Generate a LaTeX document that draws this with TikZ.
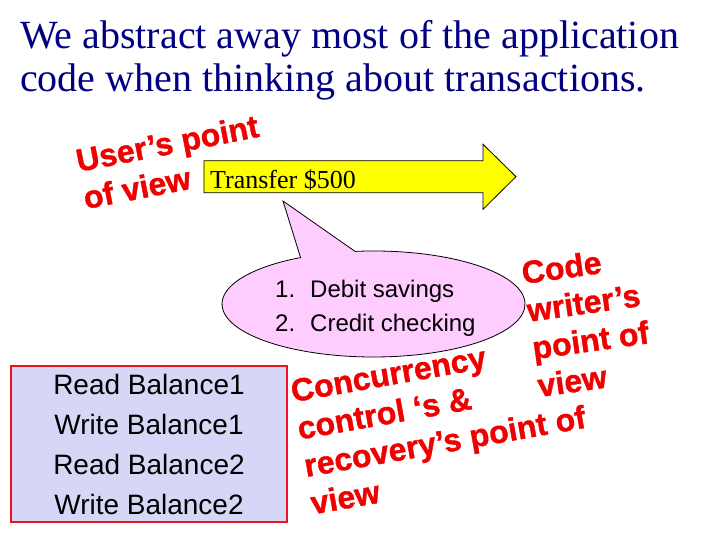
\documentclass[tikz,border=0pt]{standalone}
\usepackage{fontspec}
\setmainfont{Liberation Serif}
\newfontfamily\arialfont{Liberation Sans}
\newfontfamily\notefont[FakeBold=1.2]{Liberation Sans Bold}
\usetikzlibrary{calc}

\definecolor{titleblue}{RGB}{0,0,128}
\definecolor{notered}{RGB}{240,0,0}
\definecolor{arrowyellow}{RGB}{255,255,0}
\definecolor{bubblepink}{RGB}{255,204,255}
\definecolor{boxlavender}{RGB}{214,214,246}
\definecolor{boxred}{RGB}{235,20,30}

\begin{document}
\begin{tikzpicture}[x=1pt,y=1pt,
  headline/.style={anchor=north west, inner sep=0, align=left, text=titleblue,
    font=\fontsize{40}{43}\selectfont},
  viewnote/.style={anchor=north west, inner sep=0, align=left, text=notered,
    font=\notefont\fontsize{32}{38}\selectfont},
  outline/.style={draw=black, line width=0.8pt}
]
\useasboundingbox (0,0) rectangle (720,540);

% heading
\node[headline] (heading) at (20,519.5)
  {We abstract away most of the application\\code when thinking about transactions.};

% the transfer arrow
\draw[outline, fill=arrowyellow]
  (204,379.3) -- (483,379.3) -- (483,395.7) -- (516,363.3)
  -- (483,330.7) -- (483,347.3) -- (204,347.3) -- cycle;
\node[anchor=base west, inner sep=0, font=\fontsize{26}{30}\selectfont]
  (transfer) at (210,351) {Transfer \$500};

% speech bubble with the two steps
\coordinate (bubble) at (373.5,236);
\coordinate (tailtip) at (283,339);
\draw[outline, fill=bubblepink]
  ($(bubble)+(97:151.5 and 53)$)
  arc[start angle=97, end angle=-241.2, x radius=151.5, y radius=53]
  -- (tailtip) -- cycle;
\node[anchor=base west, inner sep=0, font=\arialfont\fontsize{24}{34}\selectfont]
  (steps) at (275,242)
  {\begin{tabular}[t]{@{}p{35pt}@{}l@{}}1.&Debit savings\\2.&Credit checking\end{tabular}};

% low-level operations
\node[draw=boxred, line width=2pt, fill=boxlavender, minimum width=276pt,
  minimum height=156pt, inner sep=0, align=center,
  font=\arialfont\fontsize{28}{40}\selectfont] (ops) at (149,96)
  {Read Balance1\\Write Balance1\\Read Balance2\\Write Balance2};

% points of view
\node[viewnote, rotate=11] (userview) at (74,391) {User’s point\\of view};
\node[viewnote, rotate=8] (coderview) at (520,279) {Code\\writer’s\\point of\\view};
\node[viewnote, rotate=10] (ccview) at (289,160)
  {Concurrency\\control ‘s \&\\recovery’s point of\\view};
\end{tikzpicture}
\end{document}
